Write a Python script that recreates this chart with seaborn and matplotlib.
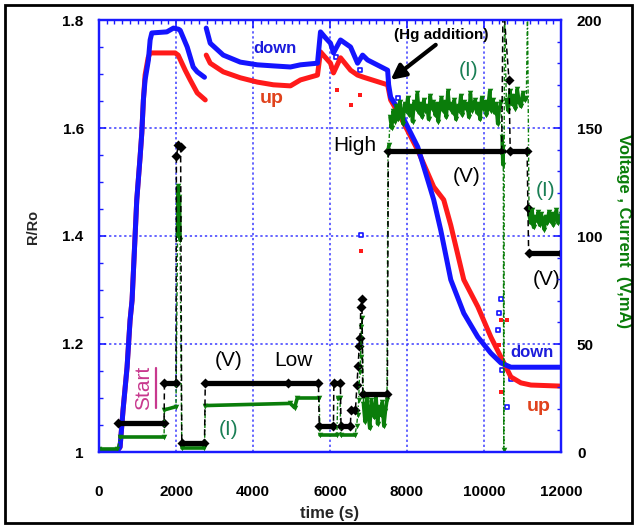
import numpy as np
import pandas as pd
import matplotlib
matplotlib.use("Agg")
import matplotlib.pyplot as plt
from matplotlib.ticker import MultipleLocator, FuncFormatter
from matplotlib.patches import Rectangle
from matplotlib.lines import Line2D
import seaborn as sns

sns.set_style("white")
plt.rcParams["font.family"] = ["Liberation Sans", "DejaVu Sans"]
plt.rcParams["font.weight"] = "bold"

# ---- R/Ro, "down" sweep (NaN marks a break in the record) ----
down_t = [0, 470, 547, 625, 729, 807, 859, 981, 1067, 1111, 1153, 1197, 1283, 1328,
          1372, 1762, 1934, 2064, 2108, 2291, 2447, 2551, 2740, np.nan,
          2785, 2889, 3228, 3670, 4113, 4529, 4972, 5232, 5675, 5753, 5883, 6013,
          6091, 6273, 6534, 6716, 6846, 6976, 7497, 7523, 7575, 7835, 8278, 8538,
          8694, 8876, 9137, 9475, 9840, 10178, 10438, 10699, 11219, 12000]
down_r = [1.000, 1.002, 1.009, 1.078, 1.157, 1.244, 1.281, 1.467, 1.546, 1.590,
          1.652, 1.689, 1.726, 1.763, 1.776, 1.778, 1.785, 1.783, 1.781, 1.750,
          1.713, 1.704, 1.694, np.nan,
          1.785, 1.757, 1.735, 1.722, 1.717, 1.715, 1.713, 1.717, 1.720, 1.778,
          1.767, 1.757, 1.739, 1.763, 1.750, 1.720, 1.735, 1.726, 1.707, 1.680,
          1.657, 1.628, 1.565, 1.504, 1.467, 1.411, 1.319, 1.257, 1.213, 1.183,
          1.165, 1.157, 1.157, 1.157]

# ---- R/Ro, "up" sweep ----
up_t = [0, 470, 547, 625, 729, 807, 859, 981, 1067, 1111, 1153, 1197, 1276, 1328,
        1718, 1978, 2056, 2239, 2369, 2551, 2760, np.nan,
        2785, 2889, 3228, 3670, 4113, 4529, 4972, 5232, 5675, 5753, 6013, 6091,
        6273, 6534, 6716, 6872, 7497, 7575, 7835, 8278, 8694, 8954, 9137, 9475,
        9840, 10178, 10438, 10699, 10959, 11219, 12000]
up_r = [1.000, 1.002, 1.009, 1.078, 1.157, 1.244, 1.281, 1.467, 1.546, 1.590,
        1.652, 1.698, 1.730, 1.739, 1.739, 1.739, 1.735, 1.707, 1.689, 1.665,
        1.652, np.nan,
        1.735, 1.720, 1.704, 1.693, 1.685, 1.680, 1.678, 1.689, 1.698, 1.741,
        1.720, 1.702, 1.730, 1.707, 1.698, 1.694, 1.680, 1.652, 1.620, 1.559,
        1.491, 1.467, 1.420, 1.319, 1.269, 1.213, 1.176, 1.139, 1.128, 1.124,
        1.122]

# stray readings
down_out_t = [6143, 6768, 7757, 6794, 10440, 10386, 10360, 10464, 10699, 10594]
down_out_r = [1.731, 1.707, 1.656, 1.402, 1.283, 1.257, 1.226, 1.152, 1.135, 1.083]
up_out_t = [6169, 6534, 6768, 6794, 10440, 10600, 10386, 10438]
up_out_r = [1.670, 1.643, 1.661, 1.372, 1.244, 1.244, 1.198, 1.111]

# ---- applied voltage (V); equal seg id = held level ----
volt_t = [495, 1690, 1700, 2000, 2010, 2060, 2120, 2150, 2740, 2760, 4920, 5700,
          5720, 6090, 6100, 6270, 6285, 6530, 6545, 6660, 6700, 6730, 6760, 6780,
          6800, 6830, 6850, 7490, 7515, 10460, 10495, 10650, 10680, 11120, 11140,
          11160, 12000]
volt_v = [13.4, 13.4, 32, 32, 137, 142, 141, 4, 4, 32, 32, 32, 12, 12, 32, 32,
          12, 12, 19.4, 19.4, 31, 40, 49, 53, 67, 71, 26.8, 26.8, 139.5, 139.5,
          210, 172, 139.5, 139.5, 113, 92, 92]
volt_seg = [0, 0, 1, 1, 2, 3, 4, 5, 5, 6, 6, 6, 7, 7, 8, 8, 9, 9, 10, 10,
            11, 12, 13, 14, 15, 16, 17, 17, 18, 18, 19, 20, 21, 21, 22, 23, 23]

# ---- current (mA) ----
cur_t = [0, 470, 550, 1690, 1700, 2000, 2040, 2060, 2075, 2090, 2105, 2150, 2740,
         2760, 4970, 5080, 5150, 5720, 5740, 6180, 6200, 6260, 6280, 6650, 6690,
         6720, 6745, 6770, 6795, 6815, 6835, 7505, 7530, 10470, 10490, 10500,
         10515, 10530, 11130]
cur_i = [1.5, 1.5, 7, 7, 19.5, 21, 100, 123, 108, 118, 98, 2, 2, 21.5, 22.5,
         20.5, 25, 25, 8, 8, 25, 25, 8, 8, 12, 17, 24, 37, 44, 58, 62, 139, 142,
         146, 133, 141, 1, 205, 205]
cur_seg = [0, 0, 1, 1, 2, 2, 3, 3, 3, 3, 3, 4, 4, 5, 5, 5, 5, 5, 6, 6, 7, 7, 8, 8,
           9, 10, 11, 12, 13, 14, 15, 16, 16, 17, 17, 17, 18, 19, 20]

# fluctuating current readings during the held-voltage stages
band_a_span, band_a_i = (6870, 7480), [22, 14, 25, 18, 11, 24, 20, 16, 26, 13,
                                        21, 17, 23, 12, 19, 24]
band_b_span, band_b_i = (7560, 10440), [
    155, 150, 158, 153, 160, 154, 162, 157, 152, 161,
    158, 164, 156, 160, 153, 162, 159, 166, 157, 161,
    155, 163, 158, 160, 154, 165, 159, 162, 156, 161,
    153, 160, 164, 158, 162, 155, 167, 159, 161, 157,
    163, 154, 160, 158, 165, 156, 162, 159, 161, 155,
    166, 158, 160, 163, 157, 161, 154, 164, 159, 162,
    156, 160, 167, 158, 163, 157, 161, 152, 159, 162]
band_c_span, band_c_i = (10580, 11100), [163, 158, 167, 161, 165, 159, 168, 162,
                                          160, 166, 163, 164]
band_d_span, band_d_i = (11170, 12000), [110, 106, 112, 104, 109, 107, 111, 105,
                                          110, 108, 103, 109, 106, 111, 107, 110,
                                          105, 109, 112, 106, 108, 110]

BLUE = "#1414ff"
RED = "#ff1a1a"
GREEN = "#0a7d0a"
AXBLUE = "#1a1aff"
GRIDBLUE = "#3a3aff"
ITEAL = "#1a7f55"


def broken(t, y):
    t = np.asarray(t, float)
    y = np.asarray(y, float)
    seg = np.cumsum(np.isnan(y))
    keep = ~np.isnan(y)
    return pd.DataFrame({"t": t[keep], "y": y[keep], "seg": seg[keep]})


down = broken(down_t, down_r)
up = broken(up_t, up_r)
volt = pd.DataFrame({"t": volt_t, "v": volt_v, "seg": volt_seg})

pieces = [pd.DataFrame({"t": cur_t, "i": cur_i, "seg": cur_seg})]
for k, (span, vals) in enumerate([(band_a_span, band_a_i), (band_b_span, band_b_i),
                                  (band_c_span, band_c_i), (band_d_span, band_d_i)]):
    pieces.append(pd.DataFrame({"t": np.linspace(span[0], span[1], len(vals)),
                                "i": vals, "seg": 100 + k}))
cur = pd.concat(pieces).sort_values("t").reset_index(drop=True)

fig = plt.figure(figsize=(6.36, 5.26), dpi=100)
ax = fig.add_axes([99 / 636, 74 / 526, 462 / 636, 432 / 526])
ax2 = ax.twinx()

# resistance ratio
sns.lineplot(data=up, x="t", y="y", units="seg", estimator=None, sort=False,
             color=RED, lw=3.6, ax=ax, legend=False)
sns.lineplot(data=down, x="t", y="y", units="seg", estimator=None, sort=False,
             color=BLUE, lw=3.6, ax=ax, legend=False)
sns.scatterplot(x=up_out_t, y=up_out_r, marker="s", s=9, color=RED,
                linewidth=0, ax=ax, legend=False)
sns.scatterplot(x=down_out_t, y=down_out_r, marker="s", s=12, facecolor="white",
                edgecolor=BLUE, linewidth=1.2, ax=ax, legend=False)

# current
sns.lineplot(data=cur, x="t", y="i", estimator=None, sort=False, color=GREEN,
             lw=1.0, linestyle=(0, (3, 1.5, 1, 1.5)), ax=ax2, legend=False)
sns.lineplot(data=cur, x="t", y="i", units="seg", estimator=None, sort=False,
             color=GREEN, lw=2.6, ax=ax2, legend=False)
sns.scatterplot(data=cur, x="t", y="i", marker="v", s=16, color=GREEN,
                linewidth=0, ax=ax2, legend=False)

# voltage
sns.lineplot(data=volt, x="t", y="v", estimator=None, sort=False, color="black",
             lw=1.1, linestyle=(0, (4, 2.5)), ax=ax2, legend=False)
sns.lineplot(data=volt, x="t", y="v", units="seg", estimator=None, sort=False,
             color="black", lw=3.8, ax=ax2, legend=False)
sns.scatterplot(data=volt, x="t", y="v", marker="D", s=26, color="black",
                linewidth=0, ax=ax2, legend=False)

ax.set_xlim(0, 12000)
ax.set_ylim(1.0, 1.8)
ax2.set_ylim(0, 200)

ax.xaxis.set_major_locator(MultipleLocator(2000))
ax.xaxis.set_minor_locator(MultipleLocator(200))
ax.yaxis.set_major_locator(MultipleLocator(0.2))
ax.yaxis.set_minor_locator(MultipleLocator(0.05))
ax.yaxis.set_major_formatter(FuncFormatter(lambda v, p: f"{v:g}"))
ax.xaxis.set_major_formatter(FuncFormatter(lambda v, p: f"{v:.0f}"))
ax2.yaxis.set_major_locator(MultipleLocator(50))
ax2.yaxis.set_minor_locator(MultipleLocator(10))

ax.tick_params(which="both", direction="in", color=AXBLUE, labelcolor="black",
               top=True, right=False, labelsize=11)
ax.tick_params(axis="x", which="major", length=6, width=1.2, pad=24)
ax.tick_params(axis="y", which="major", length=5, width=1.2, pad=11)
ax.tick_params(which="minor", length=3, width=1)
ax2.tick_params(axis="y", which="both", direction="in", color=AXBLUE,
                labelcolor="black", right=True, left=False, labelsize=11)
ax2.tick_params(axis="y", which="major", length=5, width=1.2, pad=11.5)
ax2.tick_params(axis="y", which="minor", length=3, width=1)

ax.grid(True, which="major", color=GRIDBLUE, linestyle=(0, (1.5, 1.8)), linewidth=1.1)
ax2.grid(False)
for a in (ax, ax2):
    for s in a.spines.values():
        s.set_color(AXBLUE)
        s.set_linewidth(1.6)

ax.set_xlabel("time (s)", fontsize=12, fontweight="bold", va="center")
ax.set_ylabel("R/Ro", fontsize=10.5, fontweight="bold", va="center")
ax2.set_ylabel("Voltage , Current  (V,mA)", fontsize=12, fontweight="bold",
               color=GREEN, rotation=270, va="center")
ax.xaxis.set_label_coords(0.5, -0.143)
ax.yaxis.set_label_coords(-0.143, 0.521)
ax2.yaxis.set_label_coords(1.136, 0.512)

# annotations
ax.text(4581, 1.748, "down", color="#1c1cdc", fontsize=12, fontweight="bold",
        ha="center", va="center")
ax.text(4477, 1.654, "up", color="#e0421c", fontsize=14, fontweight="bold",
        ha="center", va="center")
ax.text(11245, 1.185, "down", color="#1c1cdc", fontsize=12, fontweight="bold",
        ha="center", va="center")
ax.text(11427, 1.085, "up", color="#e0421c", fontsize=14, fontweight="bold",
        ha="center", va="center")
ax.text(8902, 1.772, "(Hg addition)", color="black", fontsize=11, fontweight="bold",
        ha="center", va="center")
ax.annotate("", xy=(7575, 1.689), xytext=(8746, 1.754),
            arrowprops=dict(arrowstyle="-|>", color="black", lw=3,
                            mutation_scale=22, shrinkA=0, shrinkB=0))
big = dict(fontsize=15, fontweight="normal", ha="center", va="center")
ax.text(9605, 1.707, "(I)", color=ITEAL, **big)
ax.text(6638, 1.567, "High", color="black", **big)
ax.text(9553, 1.511, "(V)", color="black", **big)
ax.text(11609, 1.485, "(I)", color=ITEAL, **big)
ax.text(11635, 1.320, "(V)", color="black", **big)
ax.text(3358, 1.169, "(V)", color="black", **big)
ax.text(5060, 1.169, "Low", color="black", **big)
ax.text(3358, 1.041, "(I)", color=ITEAL, **big)
start = ax.text(1145, 1.119, "Start", color="#c8388e", rotation=90, **big)

# outer frame
fig.add_artist(Rectangle((5 / 636, 3 / 526), 627 / 636, 518 / 526,
                         transform=fig.transFigure, fill=False, lw=2, ec="black"))

# underline the rotated "Start" label
fig.canvas.draw()
bb = start.get_window_extent().transformed(fig.transFigure.inverted())
fig.add_artist(Line2D([bb.x1 + 0.006, bb.x1 + 0.006], [bb.y0 + 0.004, bb.y1 - 0.004],
                      transform=fig.transFigure, color="#c8388e", lw=1.6))

fig.savefig("out.png", dpi=100)
